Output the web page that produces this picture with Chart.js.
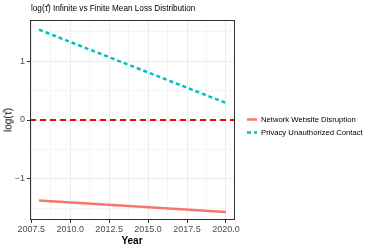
<!DOCTYPE html>
<html>
<head>
<meta charset="utf-8">
<script src="https://cdn.jsdelivr.net/npm/chart.js@4"></script>
<style>
  body { margin: 0; background: #fff; }
  #wrap { position: relative; width: 374px; height: 249px; font-family: "Liberation Sans", Arial, sans-serif; }
  #title { position: absolute; left: 31px; top: 4px; font-size: 8.2px; color: #000; white-space: nowrap; }
  #ytitle { position: absolute; left: 8px; top: 120px; font-size: 10px; color: #000; transform: translate(-50%, -50%) rotate(-90deg); white-space: nowrap; }
  #xtitle { position: absolute; left: 132px; top: 240px; font-size: 10px; font-weight: bold; transform: translate(-50%, -50%); }
</style>
</head>
<body>
<div id="wrap">
  <canvas id="chart" width="374" height="249"></canvas>
  <div id="title">log(τ̂) Infinite vs Finite Mean Loss Distribution</div>
  <div id="ytitle">log(τ̂)</div>
  <div id="xtitle">Year</div>
</div>
<script>
const years = [2008, 2020];
const networkDisruption = [-1.37, -1.565];
const privacyContact = [1.535, 0.29];
const seriesNames = ['Network Website Disruption', 'Privacy Unauthorized Contact'];
const xMajor = [2007.5, 2010, 2012.5, 2015, 2017.5, 2020];
const xMinor = [2008.75, 2011.25, 2013.75, 2016.25, 2018.75];
const yMajor = [-1, 0, 1];
const yMinor = [-1.5, -0.5, 0.5, 1.5];
const refLine = 0;

const toPoints = (ys) => years.map((x, i) => ({ x: x, y: ys[i] }));
const isMajor = (list, v) => list.some(m => Math.abs(m - v) < 1e-6);

const refLinePlugin = {
    id: 'refLine',
    beforeDatasetsDraw(chart) {
        const { ctx, chartArea, scales } = chart;
        const y = scales.y.getPixelForValue(refLine);
        ctx.save();
        ctx.strokeStyle = '#ff0000';
        ctx.lineWidth = 2;
        ctx.setLineDash([6, 4]);
        ctx.beginPath();
        ctx.moveTo(chartArea.left, y);
        ctx.lineTo(chartArea.right, y);
        ctx.stroke();
        ctx.restore();
    },
    afterDatasetsDraw(chart) {
        const { ctx, chartArea } = chart;
        ctx.save();
        ctx.strokeStyle = '#333333';
        ctx.lineWidth = 1;
        ctx.strokeRect(chartArea.left + 0.5, chartArea.top + 0.5,
            chartArea.right - chartArea.left - 1, chartArea.bottom - chartArea.top - 1);
        ctx.restore();
    }
};

const legendPlugin = {
    id: 'sideLegend',
    afterDraw(chart) {
        const { ctx } = chart;
        ctx.save();
        ctx.font = '7.7px "Liberation Sans", Arial, sans-serif';
        ctx.textBaseline = 'middle';
        chart.data.datasets.forEach((ds, i) => {
            const y = 119.5 + i * 13;
            ctx.strokeStyle = ds.borderColor;
            ctx.lineWidth = 2.5;
            ctx.setLineDash(ds.borderDash || []);
            ctx.beginPath();
            ctx.moveTo(247, y);
            ctx.lineTo(257, y);
            ctx.stroke();
            ctx.setLineDash([]);
            ctx.fillStyle = '#000';
            ctx.fillText(ds.label, 261, y);
        });
        ctx.restore();
    }
};

const tickFont = { family: '"Liberation Sans", Arial, sans-serif', size: 9 };

new Chart(document.getElementById('chart'), {
    type: 'line',
    data: {
        datasets: [{
            label: seriesNames[0],
            data: toPoints(networkDisruption),
            borderColor: '#F8766D',
            borderWidth: 2.5,
            pointRadius: 0
        }, {
            label: seriesNames[1],
            data: toPoints(privacyContact),
            borderColor: '#00BFC4',
            borderWidth: 2.5,
            borderDash: [4, 3],
            pointRadius: 0
        }]
    },
    options: {
        responsive: false,
        animation: false,
        layout: { padding: { left: 0, top: 20, right: 139, bottom: 0 } },
        plugins: { legend: { display: false }, tooltip: { enabled: false } },
        scales: {
            x: {
                type: 'linear',
                min: 2007.42,
                max: 2020.58,
                afterFit: (s) => { s.height = 29; },
                afterBuildTicks: (s) => { s.ticks = xMajor.concat(xMinor).sort((a, b) => a - b).map(v => ({ value: v })); },
                ticks: {
                    autoSkip: false,
                    maxRotation: 0,
                    padding: 1,
                    color: '#4d4d4d',
                    font: tickFont,
                    callback: (v) => isMajor(xMajor, v) ? v.toFixed(1) : ''
                },
                grid: {
                    color: (c) => isMajor(xMajor, c.tick.value) ? '#ebebeb' : '#f5f5f5',
                    tickColor: (c) => isMajor(xMajor, c.tick.value) ? '#333333' : 'rgba(0,0,0,0)',
                    tickLength: 3
                },
                border: { display: false }
            },
            y: {
                min: -1.70,
                max: 1.70,
                afterFit: (s) => { s.width = 30; },
                afterBuildTicks: (s) => { s.ticks = yMajor.concat(yMinor).sort((a, b) => a - b).map(v => ({ value: v })); },
                ticks: {
                    autoSkip: false,
                    padding: 2,
                    color: '#4d4d4d',
                    font: tickFont,
                    callback: (v) => isMajor(yMajor, v) ? String(v).replace('-', '\u2212') : ''
                },
                grid: {
                    color: (c) => isMajor(yMajor, c.tick.value) ? '#ebebeb' : '#f5f5f5',
                    tickColor: (c) => isMajor(yMajor, c.tick.value) ? '#333333' : 'rgba(0,0,0,0)',
                    tickLength: 3
                },
                border: { display: false }
            }
        }
    },
    plugins: [refLinePlugin, legendPlugin]
});
</script>
</body>
</html>
